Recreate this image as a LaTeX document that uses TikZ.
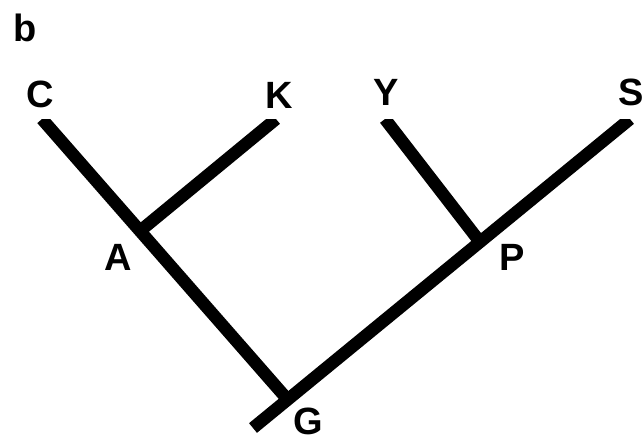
\documentclass[tikz,border=0pt]{standalone}
\usepackage{fontspec}
\setmainfont{Liberation Sans}
\usepackage{tikz}
\usetikzlibrary{positioning, calc}

\begin{document}
\begin{tikzpicture}[x=1pt, y=-1pt,
    branch/.style={line width=12.5pt, line cap=square},
    taxon/.style={font=\fontsize{38}{40}\selectfont\bfseries, inner sep=0pt}]
  \useasboundingbox (0,0) rectangle (644,441);

  % Tips and inner nodes
  \coordinate (tipC) at (42,119);
  \coordinate (tipK) at (276,119);
  \coordinate (tipY) at (385,119);
  \coordinate (tipS) at (630,119);
  \coordinate (A) at (140,231);
  \coordinate (P) at (480,242);
  \coordinate (G) at (288,400);
  \coordinate (root) at (253,428);

  % Branches (tips cut flat)
  \begin{scope}
    \clip (0,119) rectangle (644,441);
    \draw[branch] (tipC) -- (G);
    \draw[branch] (tipS) -- (root);
    \draw[branch] (tipK) -- (A);
    \draw[branch] (tipY) -- (P);
  \end{scope}

  % Labels
  \node[taxon] (panel) at (25,28) {b};
  \node[taxon] (labC) at (40,94) {C};
  \node[taxon] (labK) at (279,95) {K};
  \node[taxon] (labY) at (386,92) {Y};
  \node[taxon] (labS) at (631,92) {S};
  \node[taxon] (labA) at (118,257) {A};
  \node[taxon] (labP) at (512,257) {P};
  \node[taxon] (labG) at (308,421) {G};
\end{tikzpicture}
\end{document}
